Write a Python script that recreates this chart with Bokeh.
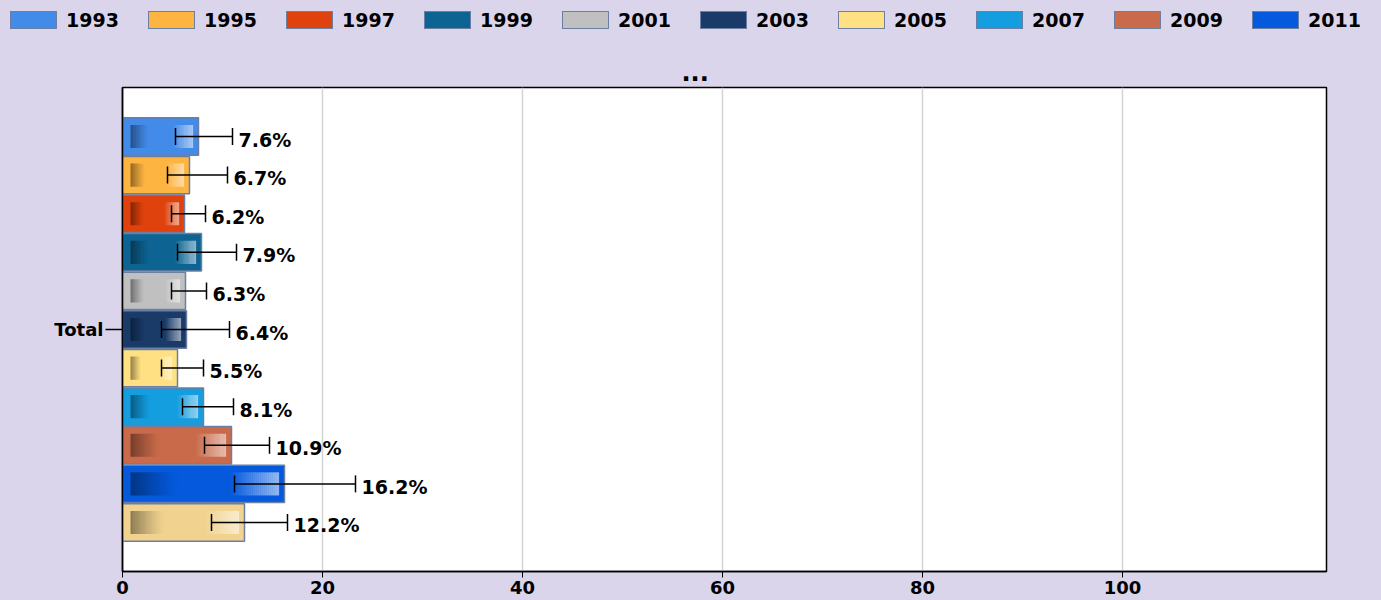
from bokeh.plotting import figure
from bokeh.layouts import column
from bokeh.models import (Range1d, FixedTicker, Title, Whisker, TeeHead,
                          ColumnDataSource, Div)
from bokeh.embed import file_html
from bokeh.resources import INLINE
from bokeh.core.properties import value

# ---- data ----
category = ["Total"]
years = ["1993", "1995", "1997", "1999", "2001", "2003", "2005", "2007", "2009", "2011", "2013"]
legend_years = ["1993", "1995", "1997", "1999", "2001", "2003", "2005", "2007", "2009", "2011"]
values = [7.6, 6.7, 6.2, 7.9, 6.3, 6.4, 5.5, 8.1, 10.9, 16.2, 12.2]
lower = [5.3, 4.5, 4.9, 5.5, 4.9, 3.9, 3.9, 6.0, 8.2, 11.2, 8.9]
upper = [11.0, 10.5, 8.3, 11.4, 8.4, 10.7, 8.1, 11.1, 14.7, 23.3, 16.5]
colors = ["#438be9", "#fdb441", "#df420c", "#0d6493", "#c0c0c0", "#1a3a68",
          "#ffe183", "#149ddf", "#c96a4a", "#0459dd", "#f1d38f"]
x_ticks = [0, 20, 40, 60, 80, 100]

BG = "#dad5ea"
FONT = "DejaVu Sans"
EDGE = "#6b7fa3"
W, H, LEG_H = 1381, 600, 30

n = len(values)
ypos = [(n - 1) / 2 - i for i in range(n)]

# ---------- legend strip (HTML) ----------
items_html = ""
for yr, c in zip(years, colors):
    if yr in legend_years:
        items_html += (
            f'<div style="display:flex;align-items:center;flex:none;width:138px;">'
            f'<span style="display:inline-block;box-sizing:border-box;width:47px;height:18px;'
            f'background:{c};border:1.5px solid {EDGE};margin-right:9px;"></span>'
            f'<span style="line-height:18px;">{yr}</span></div>')
legend_html = (f'<div style="display:flex;flex-wrap:nowrap;white-space:nowrap;box-sizing:border-box;'
               f'width:{W}px;height:{LEG_H + 2}px;padding:8px 0 0 10px;overflow:hidden;margin:0;'
               f'background:{BG};font-family:\'DejaVu Sans\';font-weight:bold;'
               f'font-size:19px;color:black;">{items_html}</div>')
leg = Div(text=legend_html, width=W, height=LEG_H, margin=0,
          styles={"background-color": BG, "overflow": "hidden"})

# ---------- main chart ----------
p = figure(width=W, height=H - LEG_H, output_backend="svg", toolbar_location=None,
           x_range=Range1d(0, 120.4), y_range=Range1d(-6.27, 6.27),
           min_border_left=122, min_border_right=55, min_border_top=57,
           min_border_bottom=29, margin=0, styles={"background-color": BG})
p.background_fill_color = "white"
p.border_fill_color = BG
p.outline_line_color = "black"
p.outline_line_width = 1.5

for i in range(n):
    p.hbar(y=[ypos[i]], left=0, right=[values[i]], height=0.97,
           fill_color=colors[i], line_color=EDGE, line_width=1.5)

# glass effect strips (derived from values)
steps = 24
dl, dr, dy, da = [], [], [], []
ll, lr, ly, la = [], [], [], []
for i in range(n):
    v = values[i]
    a0, a1 = 0.8, 0.34 * v
    w = (a1 - a0) / steps
    for k in range(steps):
        dl.append(a0 + k * w); dr.append(a0 + (k + 1) * w + 0.01); dy.append(ypos[i])
        da.append(0.4 * (1 - k / steps) ** 1.3)
    b0, b1 = 0.67 * v, v - 0.55
    w = (b1 - b0) / steps
    for k in range(steps):
        ll.append(b0 + k * w); lr.append(b0 + (k + 1) * w + 0.01); ly.append(ypos[i])
        la.append(0.55 * (k + 1) / steps)
p.hbar(y=dy, left=dl, right=dr, height=0.6, fill_color="black", fill_alpha=da, line_alpha=0)
p.hbar(y=ly, left=ll, right=lr, height=0.6, fill_color="white", fill_alpha=la, line_alpha=0)

# error bars
src = ColumnDataSource(dict(y=ypos, lower=lower, upper=upper,
                            label=[f"{v}%" for v in values]))
p.add_layout(Whisker(source=src, base="y", lower="lower", upper="upper", dimension="width",
                     level="overlay", line_color="black", line_width=1.5,
                     lower_head=TeeHead(size=17, line_color="black", line_width=1.5),
                     upper_head=TeeHead(size=17, line_color="black", line_width=1.5)))

p.text(x="upper", y="y", text="label", source=src, x_offset=6, y_offset=3,
       text_baseline="middle", text_align="left", text_font=value(FONT),
       text_font_style="bold", text_font_size="19px", text_color="black")

# axes
p.xaxis.ticker = FixedTicker(ticks=x_ticks)
p.xaxis.minor_tick_line_color = None
p.xaxis.major_tick_in = 0
p.xaxis.major_tick_out = 6
p.xaxis.major_tick_line_color = "black"
p.xaxis.axis_line_color = "black"
p.xaxis.axis_line_width = 1.5
p.xaxis.major_label_text_font = FONT
p.xaxis.major_label_text_font_style = "bold"
p.xaxis.major_label_text_font_size = "18px"
p.xaxis.major_label_text_color = "black"
p.xaxis.major_label_standoff = 3

p.yaxis.ticker = FixedTicker(ticks=[0])
p.yaxis.major_label_overrides = {0: category[0]}
p.yaxis.minor_tick_line_color = None
p.yaxis.major_tick_in = 0
p.yaxis.major_tick_out = 17
p.yaxis.major_tick_line_color = "black"
p.yaxis.major_tick_line_width = 1.5
p.yaxis.axis_line_color = "black"
p.yaxis.axis_line_width = 1.5
p.yaxis.major_label_text_font = FONT
p.yaxis.major_label_text_font_style = "bold"
p.yaxis.major_label_text_font_size = "18px"
p.yaxis.major_label_text_color = "black"
p.yaxis.major_label_standoff = 2

p.xgrid.grid_line_color = "#d3d3d3"
p.xgrid.grid_line_width = 1.5
p.ygrid.grid_line_color = None

p.add_layout(Title(text="...", align="left", offset=559, text_font=FONT,
                   text_font_style="bold", text_font_size="24px", text_color="black",
                   standoff=14), "above")

layout = column(leg, p, spacing=0, margin=0, styles={"background-color": BG})
open("out.html", "w").write(file_html(layout, INLINE))
